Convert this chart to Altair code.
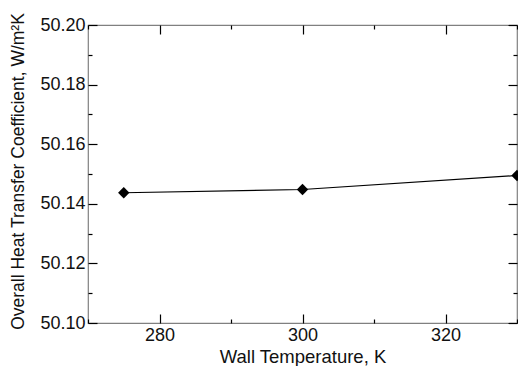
import altair as alt
import pandas as pd

wall_temp = [275, 300, 330]
overall_htc = [50.1437, 50.1448, 50.1495]

x_major = [280, 300, 320]
x_minor = [270, 290, 310, 330]
y_major = [50.10, 50.12, 50.14, 50.16, 50.18, 50.20]
y_minor = [50.11, 50.13, 50.15, 50.17, 50.19]

df = pd.DataFrame({"T": wall_temp, "U": overall_htc})

FONT = "Liberation Sans"
TXT = "#111111"
W, H = 429, 298
PAD_L, PAD_T, TOTAL_H = 80, 17, 358

xs = alt.Scale(domain=[270, 330], nice=False, zero=False)
ys = alt.Scale(domain=[50.10, 50.20], nice=False, zero=False)


def ax(orient, values, size, labels=False, fmt=None, **title_kw):
    kw = dict(
        orient=orient, values=values, tickSize=size, offset=-size,
        domain=False, grid=False, tickColor="#000000", tickWidth=1.2,
        labels=labels, title=None,
    )
    if labels:
        kw.update(labelFont=FONT, labelFontSize=18, labelColor=TXT,
                  labelPadding=3)
        if fmt:
            kw["format"] = fmt
    if title_kw:
        kw.update(titleFont=FONT, titleFontWeight="normal", titleColor=TXT)
        kw.update(title_kw)
    return alt.Axis(**kw)


base = alt.Chart(df)

main_line = base.mark_line(color="#000000", strokeWidth=1.2).encode(
    x=alt.X("T:Q", scale=xs,
            axis=ax("bottom", x_major, 9, labels=True, fmt="d",
                    title="Wall Temperature, K", titleFontSize=18.5,
                    titleBaseline="alphabetic", titleY=9 + 39)),
    y=alt.Y("U:Q", scale=ys,
            axis=ax("left", y_major, 9, labels=True, fmt=".2f",
                    title="Overall Heat Transfer Coefficient, W/m²K",
                    titleFontSize=17.5, titleBaseline="middle",
                    titleX=-79, titleY=H / 2 - 3)),
)

pts = base.mark_point(shape="diamond", filled=True, size=130,
                      color="#000000", opacity=1).encode(
    x=alt.X("T:Q", scale=xs, axis=ax("bottom", x_minor, 4)),
    y=alt.Y("U:Q", scale=ys, axis=ax("left", y_minor, 4)),
)

top_right_major = base.mark_point(opacity=0).encode(
    x=alt.X("T:Q", scale=xs, axis=ax("top", x_major, 9)),
    y=alt.Y("U:Q", scale=ys, axis=ax("right", y_major, 9)),
)

top_right_minor = base.mark_point(opacity=0).encode(
    x=alt.X("T:Q", scale=xs, axis=ax("top", x_minor, 4)),
    y=alt.Y("U:Q", scale=ys, axis=ax("right", y_minor, 4)),
)

chart = alt.layer(main_line, pts, top_right_major, top_right_minor).resolve_axis(
    x="independent", y="independent"
).properties(
    width=W, height=H,
    autosize=alt.AutoSizeParams(type="none"),
    padding={"left": PAD_L, "top": PAD_T, "right": 1,
             "bottom": TOTAL_H - PAD_T - H},
    background="white",
).configure_view(stroke="#808080", strokeWidth=1.2)

chart.save("out.html", embed_options={"renderer": "svg", "actions": False})
